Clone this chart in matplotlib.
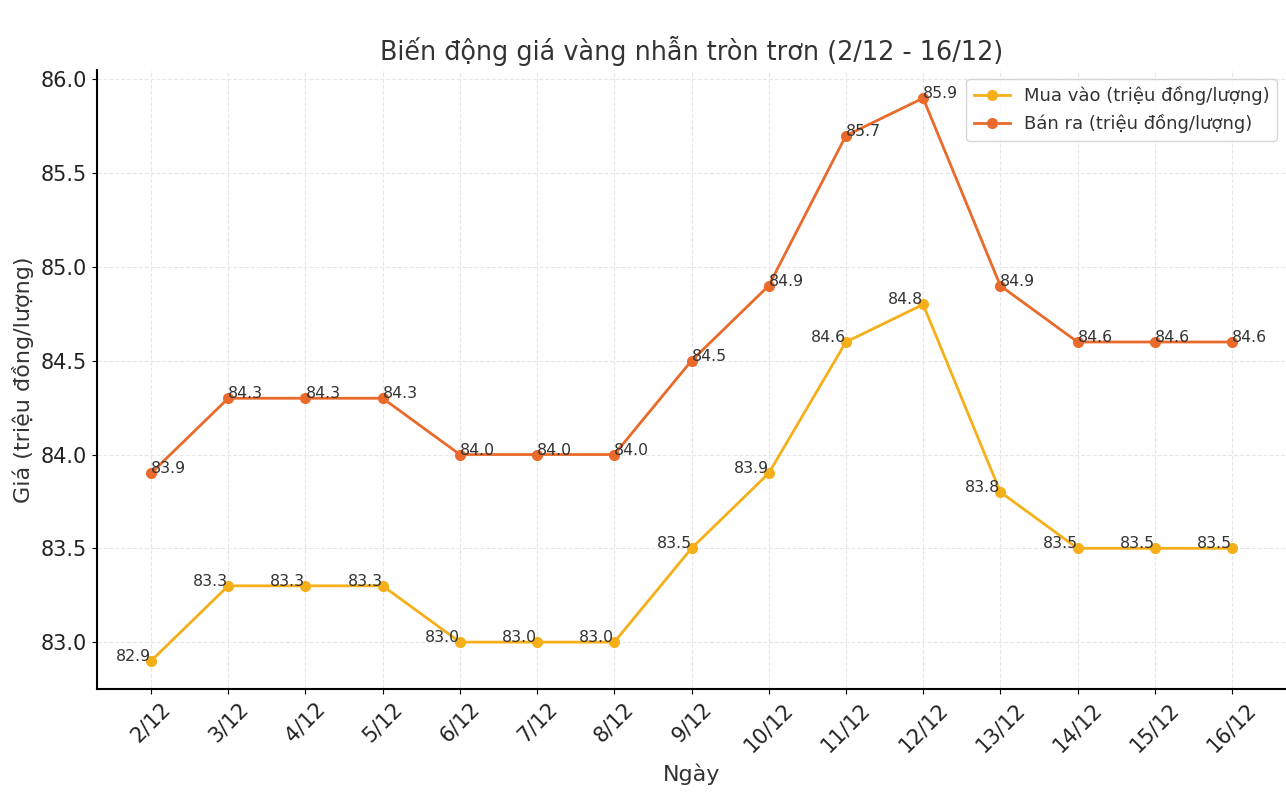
import matplotlib
matplotlib.use("Agg")
from matplotlib import pyplot as plt

days = ["2/12", "3/12", "4/12", "5/12", "6/12", "7/12", "8/12", "9/12",
        "10/12", "11/12", "12/12", "13/12", "14/12", "15/12", "16/12"]
mua_vao = [82.9, 83.3, 83.3, 83.3, 83.0, 83.0, 83.0, 83.5,
           83.9, 84.6, 84.8, 83.8, 83.5, 83.5, 83.5]
ban_ra = [83.9, 84.3, 84.3, 84.3, 84.0, 84.0, 84.0, 84.5,
          84.9, 85.7, 85.9, 84.9, 84.6, 84.6, 84.6]

c_mua = "#F5AF19"
c_ban = "#E96A2A"
txt = "#333333"

fig = plt.figure(figsize=(12.86, 8.11), dpi=100)
ax = fig.add_axes([97/1286, 1 - 689/811, 1 - 97/1286, (689 - 70)/811])

x = list(range(len(days)))
ax.plot(x, mua_vao, marker="o", color=c_mua, lw=2, ms=7, label="Mua vào (triệu đồng/lượng)")
ax.plot(x, ban_ra, marker="o", color=c_ban, lw=2, ms=7, label="Bán ra (triệu đồng/lượng)")

# value labels: buy price to the left, sell price to the right
for i, v in enumerate(mua_vao):
    ax.text(i, v, f"{v:.1f}", ha="right", va="baseline", fontsize=11.3, color=txt)
for i, v in enumerate(ban_ra):
    ax.text(i, v, f"{v:.1f}", ha="left", va="baseline", fontsize=11.3, color=txt)

ax.set_xticks(x)
ax.set_xticklabels(days, rotation=45, fontsize=15, color="#222222")
ax.tick_params(axis="y", labelsize=15, labelcolor="#222222")
ax.set_title("Biến động giá vàng nhẫn tròn trơn (2/12 - 16/12)", fontsize=18.4, color=txt, pad=7)
ax.set_xlabel("Ngày", fontsize=16, color=txt, labelpad=6)
ax.set_ylabel("Giá (triệu đồng/lượng)", fontsize=16, color=txt, labelpad=5)
ax.grid(True, linestyle="--", color="#e6e6e6", lw=0.8)
for s in ["top", "right"]:
    ax.spines[s].set_visible(False)
ax.spines["left"].set_linewidth(1.5)
ax.spines["bottom"].set_linewidth(1.5)
ax.legend(loc="upper right", fontsize=13, labelcolor=txt)

fig.savefig("out.png", dpi=100)
